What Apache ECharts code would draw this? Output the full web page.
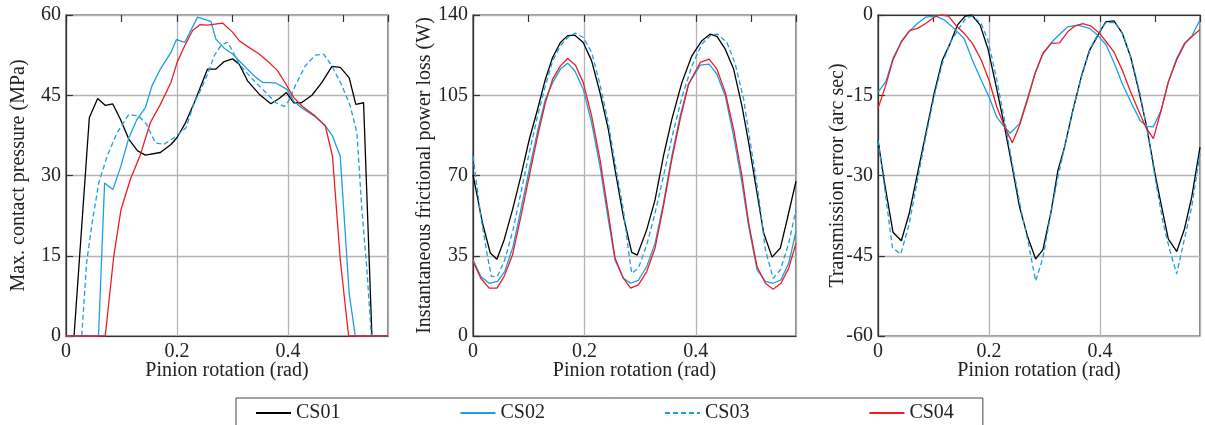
<!DOCTYPE html>
<html>
<head>
<meta charset="utf-8">
<script src="https://cdn.jsdelivr.net/npm/echarts@6/dist/echarts.min.js"></script>
<style>
  html, body { margin: 0; padding: 0; background: #fff; }
  #chart { width: 1205px; height: 425px; }
</style>
</head>
<body>
<div id="chart"></div>
<script>
// series names
var names = ['CS01', 'CS02', 'CS03', 'CS04']

// panel 1: max. contact pressure (MPa)
var p1x01 = [0, 0.0145, 0.042, 0.057, 0.071, 0.084, 0.098, 0.113, 0.129, 0.143, 0.170, 0.189, 0.200, 0.214, 0.231, 0.255, 0.270, 0.285, 0.300, 0.312, 0.327, 0.348, 0.369, 0.384, 0.397, 0.410, 0.424, 0.443, 0.461, 0.479, 0.494, 0.510, 0.522, 0.536, 0.551, 0.58]
var p1y01 = [0, 0, 40.8, 44.4, 43.1, 43.4, 40.5, 36.8, 34.6, 33.8, 34.3, 35.8, 37.1, 39.6, 43.6, 49.9, 49.9, 51.3, 51.8, 50.8, 47.7, 45.2, 43.4, 44.4, 45.5, 43.6, 43.6, 45.0, 47.4, 50.4, 50.2, 48.3, 43.3, 43.6, 0, 0]
var p1x02 = [0, 0.0586, 0.0695, 0.0846, 0.099, 0.113, 0.128, 0.143, 0.155, 0.170, 0.189, 0.199, 0.214, 0.237, 0.261, 0.270, 0.285, 0.300, 0.318, 0.336, 0.354, 0.378, 0.398, 0.410, 0.428, 0.449, 0.467, 0.480, 0.494, 0.510, 0.521, 0.58]
var p1y02 = [0, 0, 28.6, 27.4, 31.8, 37.0, 40.5, 42.7, 46.8, 49.9, 53.0, 55.4, 54.9, 59.6, 58.8, 55.5, 53.8, 52.7, 50.8, 48.9, 47.4, 47.3, 46.1, 43.9, 42.4, 41.0, 39.3, 37.4, 33.6, 8.0, 0, 0]
var p1x03 = [0, 0.0284, 0.037, 0.047, 0.059, 0.074, 0.092, 0.113, 0.131, 0.145, 0.161, 0.176, 0.195, 0.216, 0.231, 0.243, 0.255, 0.267, 0.279, 0.291, 0.300, 0.312, 0.336, 0.360, 0.378, 0.393, 0.401, 0.413, 0.431, 0.449, 0.464, 0.479, 0.497, 0.512, 0.524, 0.533, 0.542, 0.550, 0.58]
var p1y03 = [0, 0, 13.6, 21.1, 28.6, 33.6, 38.0, 41.4, 41.1, 39.6, 36.1, 35.8, 37.1, 38.9, 43.6, 46.1, 48.9, 52.4, 54.3, 54.9, 53.3, 50.8, 48.0, 45.5, 43.6, 42.9, 43.9, 46.8, 50.5, 52.5, 52.7, 50.5, 46.8, 43.0, 38.0, 23.6, 12.4, 0, 0]
var p1x04 = [0, 0.0707, 0.086, 0.099, 0.116, 0.134, 0.152, 0.170, 0.189, 0.200, 0.214, 0.228, 0.241, 0.255, 0.282, 0.300, 0.312, 0.330, 0.348, 0.366, 0.381, 0.396, 0.410, 0.425, 0.449, 0.467, 0.480, 0.494, 0.509, 0.58]
var p1y04 = [0, 0, 14.9, 23.6, 29.3, 33.9, 39.9, 43.3, 47.4, 51.1, 54.3, 57.1, 58.2, 58.1, 58.5, 56.8, 55.2, 53.9, 52.7, 51.1, 49.6, 47.1, 44.6, 43.0, 41.1, 39.3, 33.6, 14.3, 0, 0]

// panel 2: instantaneous frictional power loss (W)
var p2x01 = [0, 0.017, 0.031, 0.043, 0.056, 0.071, 0.086, 0.101, 0.116, 0.130, 0.143, 0.157, 0.170, 0.183, 0.198, 0.213, 0.228, 0.243, 0.255, 0.270, 0.285, 0.295, 0.312, 0.327, 0.342, 0.357, 0.375, 0.393, 0.411, 0.426, 0.438, 0.453, 0.468, 0.483, 0.495, 0.507, 0.522, 0.537, 0.552, 0.564, 0.58]
var p2y01 = [70.4, 49.3, 36.2, 33.5, 42.0, 55.1, 69.7, 85.7, 98.9, 112.0, 121.5, 128.0, 131.0, 131.2, 128.0, 120.0, 106.2, 90.1, 72.6, 52.2, 36.5, 35.3, 46.4, 59.5, 78.5, 94.5, 110.5, 122.2, 128.8, 131.7, 130.7, 125.1, 116.4, 100.3, 84.3, 66.8, 44.9, 34.4, 38.4, 50.7, 67.5]
var p2x02 = [0, 0.014, 0.029, 0.044, 0.057, 0.072, 0.086, 0.101, 0.116, 0.130, 0.143, 0.157, 0.170, 0.183, 0.198, 0.213, 0.228, 0.242, 0.255, 0.270, 0.283, 0.297, 0.312, 0.327, 0.342, 0.357, 0.372, 0.387, 0.408, 0.424, 0.438, 0.453, 0.468, 0.483, 0.495, 0.510, 0.525, 0.539, 0.553, 0.567, 0.58]
var p2y02 = [33.2, 26.0, 23.0, 23.8, 28.1, 39.1, 55.1, 72.6, 89.4, 103.3, 110.5, 116.4, 119.0, 115.6, 107.6, 93.0, 74.1, 52.2, 33.2, 25.2, 23.0, 24.3, 30.3, 40.5, 58.0, 78.5, 96.0, 109.8, 118.1, 118.6, 114.2, 104.7, 87.2, 66.8, 47.8, 28.9, 23.8, 23.0, 24.5, 31.8, 45.6]
var p2x03 = [0, 0.014, 0.026, 0.033, 0.044, 0.057, 0.072, 0.086, 0.101, 0.116, 0.130, 0.143, 0.157, 0.170, 0.184, 0.198, 0.213, 0.228, 0.243, 0.255, 0.270, 0.279, 0.285, 0.297, 0.312, 0.327, 0.342, 0.357, 0.375, 0.393, 0.411, 0.426, 0.439, 0.456, 0.471, 0.486, 0.498, 0.513, 0.525, 0.539, 0.552, 0.567, 0.58]
var p2y03 = [78.5, 52.2, 34.7, 26.0, 26.0, 33.2, 46.4, 62.4, 79.9, 96.0, 109.1, 120.0, 126.6, 130.2, 132.1, 130.2, 123.7, 109.8, 93.0, 75.5, 55.1, 37.6, 27.4, 29.6, 39.8, 53.7, 69.7, 86.5, 104.0, 117.8, 127.3, 131.0, 131.7, 128.0, 118.6, 103.3, 84.3, 61.0, 37.6, 25.2, 28.9, 40.5, 55.1]
var p2x04 = [0, 0.014, 0.029, 0.043, 0.056, 0.071, 0.086, 0.101, 0.116, 0.130, 0.143, 0.157, 0.170, 0.184, 0.198, 0.213, 0.228, 0.242, 0.255, 0.270, 0.283, 0.297, 0.312, 0.327, 0.342, 0.357, 0.372, 0.387, 0.408, 0.424, 0.438, 0.453, 0.468, 0.483, 0.495, 0.510, 0.525, 0.539, 0.553, 0.567, 0.58]
var p2y04 = [32.5, 25.2, 20.9, 20.9, 26.0, 35.4, 52.2, 69.7, 87.2, 101.8, 112.0, 117.8, 121.0, 118.1, 110.5, 96.0, 77.0, 55.1, 34.0, 25.2, 20.9, 22.3, 28.1, 38.4, 56.6, 77.0, 94.5, 109.8, 119.3, 120.8, 116.4, 106.2, 90.1, 69.7, 49.3, 30.3, 23.0, 20.4, 23.0, 29.6, 40.5]

// panel 3: transmission error (arc sec)
var p3x01 = [0, 0.011, 0.027, 0.042, 0.056, 0.071, 0.086, 0.101, 0.116, 0.130, 0.143, 0.157, 0.169, 0.184, 0.198, 0.213, 0.228, 0.243, 0.255, 0.270, 0.284, 0.297, 0.312, 0.324, 0.336, 0.351, 0.366, 0.381, 0.396, 0.410, 0.425, 0.440, 0.455, 0.469, 0.484, 0.499, 0.511, 0.523, 0.538, 0.552, 0.565, 0.58]
var p3y01 = [-23.4, -30.9, -40.6, -42.2, -37.2, -29.7, -22.2, -14.7, -8.4, -5.3, -1.9, -0.2, 0, -1.9, -6.3, -13.4, -20.9, -29.1, -35.9, -41.6, -45.6, -43.9, -36.6, -29.1, -24.7, -17.8, -11.6, -6.6, -3.8, -1.3, -1.1, -3.4, -7.8, -13.8, -20.9, -29.7, -35.9, -41.9, -44.2, -40.0, -34.1, -24.7]
var p3x02 = [0, 0.014, 0.027, 0.042, 0.056, 0.071, 0.086, 0.104, 0.119, 0.137, 0.155, 0.170, 0.186, 0.200, 0.214, 0.225, 0.238, 0.255, 0.270, 0.283, 0.297, 0.312, 0.327, 0.342, 0.360, 0.381, 0.396, 0.411, 0.426, 0.441, 0.457, 0.472, 0.484, 0.496, 0.510, 0.523, 0.538, 0.552, 0.566, 0.58]
var p3y02 = [-14.4, -12.5, -8.1, -5.0, -3.1, -1.6, -0.4, -0.2, -0.9, -2.5, -4.4, -8.4, -12.2, -15.3, -19.1, -20.6, -22.1, -20.3, -15.3, -10.9, -7.2, -5.2, -3.6, -2.2, -1.9, -2.5, -3.8, -5.6, -9.1, -13.1, -16.6, -19.7, -20.8, -20.9, -17.8, -12.5, -8.1, -5.3, -3.8, -0.9]
var p3x03 = [0, 0.011, 0.026, 0.041, 0.056, 0.071, 0.086, 0.101, 0.116, 0.131, 0.146, 0.158, 0.170, 0.186, 0.198, 0.213, 0.228, 0.243, 0.258, 0.270, 0.284, 0.297, 0.309, 0.324, 0.339, 0.354, 0.369, 0.384, 0.399, 0.411, 0.427, 0.442, 0.457, 0.472, 0.487, 0.502, 0.514, 0.526, 0.538, 0.550, 0.565, 0.58]
var p3y03 = [-23.4, -31.6, -43.5, -44.7, -39.1, -30.9, -22.8, -15.3, -9.0, -5.0, -2.5, -0.6, -0.2, -1.6, -4.7, -11.6, -19.7, -28.4, -36.6, -42.2, -49.7, -45.4, -38.4, -30.3, -23.4, -16.6, -10.6, -5.9, -3.1, -1.4, -1.4, -3.8, -8.4, -14.7, -22.8, -32.2, -39.1, -44.1, -48.4, -42.8, -35.9, -25.9]
var p3x04 = [0, 0.014, 0.027, 0.042, 0.057, 0.071, 0.086, 0.101, 0.113, 0.127, 0.140, 0.155, 0.170, 0.186, 0.200, 0.214, 0.228, 0.242, 0.255, 0.270, 0.283, 0.297, 0.312, 0.327, 0.342, 0.354, 0.369, 0.384, 0.399, 0.411, 0.425, 0.440, 0.454, 0.469, 0.482, 0.496, 0.510, 0.523, 0.538, 0.553, 0.568, 0.58]
var p3y04 = [-17.5, -13.1, -8.4, -5.0, -2.9, -2.5, -1.6, -0.4, 0, -0.2, -1.9, -3.4, -5.3, -8.4, -12.2, -17.2, -20.9, -23.9, -20.6, -15.6, -10.9, -7.2, -5.3, -5.2, -3.1, -2.1, -1.6, -2.1, -3.4, -5.0, -6.9, -10.3, -14.1, -17.8, -20.9, -23.1, -17.8, -12.5, -8.4, -5.3, -3.8, -2.7]

var colors = ['#000000', '#1a9fe0', '#1a9fe0', '#ee1d23']
var dashes = ['solid', 'solid', [5, 3], 'solid']

var font = 'Liberation Serif'
var xName = 'Pinion rotation (rad)'

var grids = [
  {left: 66, top: 15, width: 322, height: 321},
  {left: 473, top: 15, width: 323, height: 321},
  {left: 878, top: 15, width: 322, height: 321}
]
var yNames = ['Max. contact pressure (MPa)', 'Instantaneous frictional power loss (W)', 'Transmission error (arc sec)']
var yMin = [0, 0, -60]
var yMax = [60, 140, 0]
var yStep = [15, 35, 15]
var yGap = [37, 38, 30]

var panels = [
  [[p1x01, p1y01], [p1x02, p1y02], [p1x03, p1y03], [p1x04, p1y04]],
  [[p2x01, p2y01], [p2x02, p2y02], [p2x03, p2y03], [p2x04, p2y04]],
  [[p3x01, p3y01], [p3x02, p3y02], [p3x03, p3y03], [p3x04, p3y04]]
]

var xAxes = []
var yAxes = []
var series = []

grids.forEach(function (g, i) {
  g.show = true
  g.borderColor = '#333'
  g.borderWidth = 1.2
  g.backgroundColor = 'transparent'
  // main x axis: labels and grid lines every 0.2
  xAxes.push({
    type: 'value', gridIndex: i, min: 0, max: 0.58, interval: 0.2,
    name: xName, nameLocation: 'middle', nameGap: 25, nameMoveOverlap: false,
    nameTextStyle: {fontFamily: font, fontSize: 20, color: '#222'},
    axisLine: {lineStyle: {color: '#333', width: 1.2}},
    axisTick: {show: false},
    axisLabel: {fontFamily: font, fontSize: 20, color: '#222', margin: 6, showMaxLabel: false},
    splitLine: {show: true, lineStyle: {color: '#b4b4b4', width: 1.3}}
  })
  // minor ticks every 0.1
  xAxes.push({
    type: 'value', gridIndex: i, min: 0, max: 0.58, interval: 0.1,
    axisLine: {show: false},
    axisTick: {show: true, inside: true, length: 7, lineStyle: {color: '#333', width: 1.2}},
    axisLabel: {show: false},
    splitLine: {show: false}
  })
  yAxes.push({
    type: 'value', gridIndex: i, min: yMin[i], max: yMax[i], interval: yStep[i],
    name: yNames[i], nameLocation: 'middle', nameGap: yGap[i], nameMoveOverlap: false,
    nameTextStyle: {fontFamily: font, fontSize: 20, color: '#222'},
    axisLine: {show: true, lineStyle: {color: '#333', width: 1.2}},
    axisTick: {show: true, inside: true, length: 7, lineStyle: {color: '#333', width: 1.2}},
    axisLabel: {fontFamily: font, fontSize: 20, color: '#222', margin: 5},
    splitLine: {show: true, lineStyle: {color: '#b4b4b4', width: 1.3}}
  })
  panels[i].forEach(function (s, k) {
    series.push({
      name: names[k],
      type: 'line',
      xAxisIndex: i * 2,
      yAxisIndex: i,
      symbol: 'none',
      animation: false,
      lineStyle: {color: colors[k], width: 1.3, type: dashes[k]},
      itemStyle: {color: colors[k]},
      data: s[0].map(function (x, j) { return [x, s[1][j]] })
    })
  })
})

var chart = echarts.init(document.getElementById('chart'))
chart.setOption({
  backgroundColor: '#fff',
  animation: false,
  textStyle: {fontFamily: font},
  grid: grids,
  xAxis: xAxes,
  yAxis: yAxes,
  legend: {
    data: names,
    left: 236,
    top: 398,
    orient: 'horizontal',
    itemGap: 119,
    itemWidth: 35,
    itemHeight: 14,
    padding: [5, 29, 30, 19],
    borderColor: '#444',
    borderWidth: 1,
    itemStyle: {color: 'rgba(0,0,0,0)', borderColor: 'rgba(0,0,0,0)', borderWidth: 0},
    textStyle: {fontFamily: font, fontSize: 20, color: '#222'}
  },
  series: series
})
</script>
</body>
</html>
